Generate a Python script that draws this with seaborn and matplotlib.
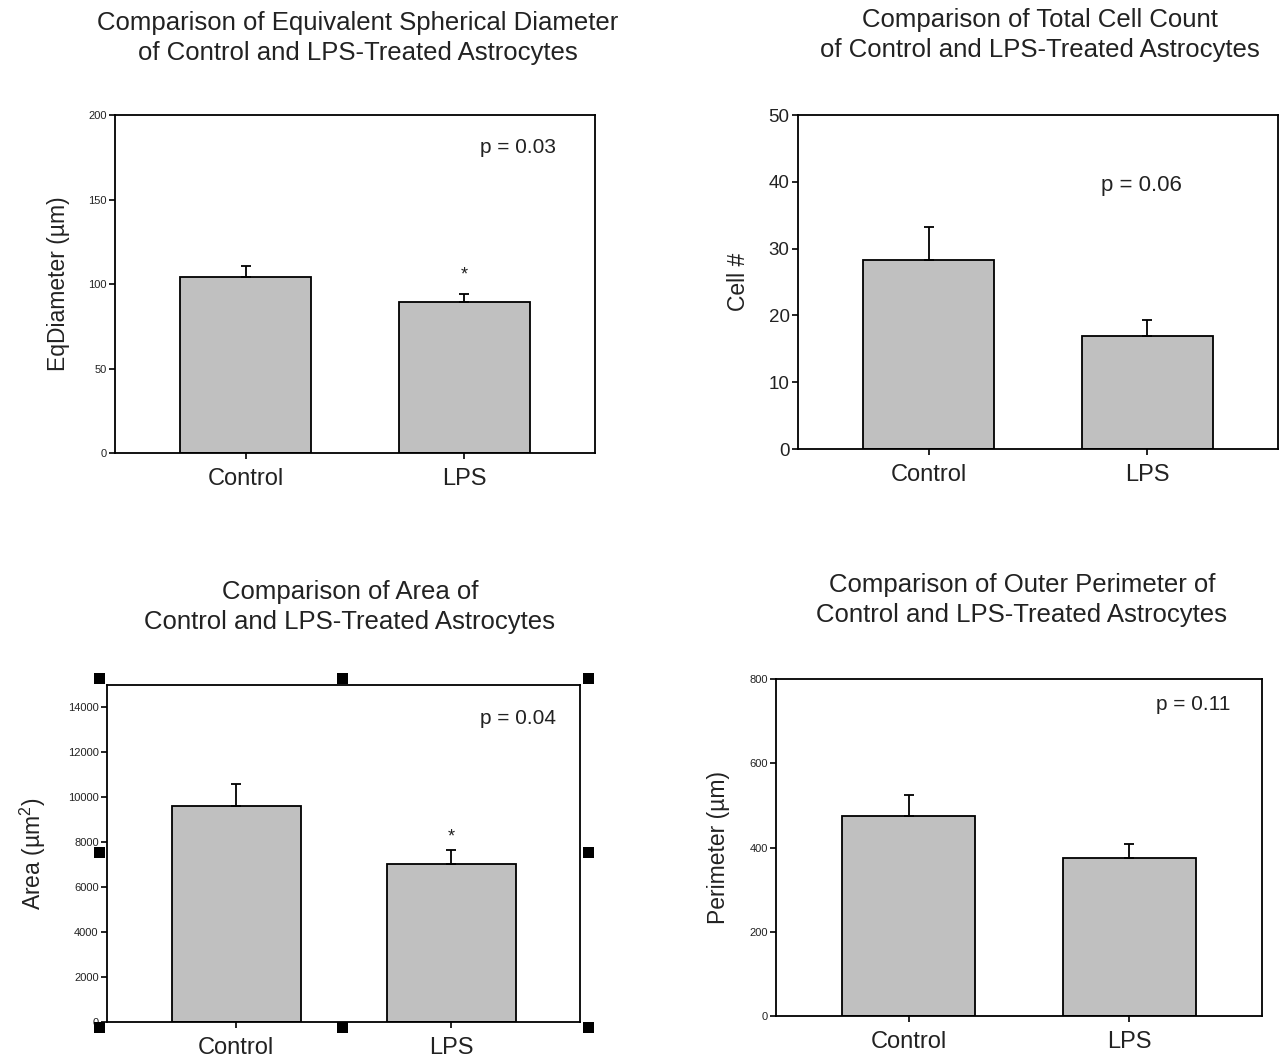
import matplotlib
matplotlib.use("Agg")
import matplotlib.pyplot as plt
import seaborn as sns
import pandas as pd
from matplotlib.patches import Rectangle

# ---- data -------------------------------------------------------------
groups = ["Control", "LPS"]

diameter_mean = [104.4, 89.1]
diameter_sem = [6.3, 5.0]

count_mean = [28.3, 16.9]
count_sem = [5.0, 2.4]

area_mean = [9600, 7020]
area_sem = [990, 630]

perimeter_mean = [475, 375]
perimeter_sem = [49, 34]

p_labels = ["p = 0.03", "p = 0.06", "p = 0.04", "p = 0.11"]
significant = [[False, True], [False, False], [False, True], [False, False]]

titles = [
    "Comparison of Equivalent Spherical Diameter\nof Control and LPS-Treated Astrocytes",
    "Comparison of Total Cell Count\nof Control and LPS-Treated Astrocytes",
    "Comparison of Area of\nControl and LPS-Treated Astrocytes",
    "Comparison of Outer Perimeter of\nControl and LPS-Treated Astrocytes",
]
ylabels = ["EqDiameter (\u00b5m)", "Cell #", "Area (\u00b5m$^2$)", "Perimeter (\u00b5m)"]

# ---- style ------------------------------------------------------------
sns.set_theme(style="ticks")
plt.rcParams["font.family"] = ["Liberation Sans", "DejaVu Sans"]
plt.rcParams["mathtext.fontset"] = "custom"
plt.rcParams["mathtext.rm"] = "Liberation Sans"
plt.rcParams["mathtext.it"] = "Liberation Sans"

W, H = 1288, 1063
fig = plt.figure(figsize=(W / 100, H / 100), dpi=100)
fig.patch.set_facecolor("white")


def rect(x0, y0, x1, y1):
    """Axes rectangle from pixel edges (origin top-left)."""
    return [x0 / W, 1 - y1 / H, (x1 - x0) / W, (y1 - y0) / H]


panels = [
    dict(means=diameter_mean, sems=diameter_sem, ylim=(0, 200), yticks=[0, 50, 100, 150, 200],
         tsize=8, box=rect(115, 115, 595, 453), title_xy=(358, 38),
         lab_x=-0.094, p_xy=(0.84, 0.905), p_size=15, star_off=7.5),
    dict(means=count_mean, sems=count_sem, ylim=(0, 50), yticks=[0, 10, 20, 30, 40, 50],
         tsize=13.5, box=rect(798, 115, 1278, 449), title_xy=(1040, 35),
         lab_x=-0.10, p_xy=(0.715, 0.79), p_size=16, star_off=7.5),
    dict(means=area_mean, sems=area_sem, ylim=(0, 15000),
         yticks=[0, 2000, 4000, 6000, 8000, 10000, 12000, 14000],
         tsize=8, box=rect(107, 685, 580, 1022), title_xy=(350, 607),
         lab_x=-0.125, p_xy=(0.869, 0.9), p_size=15, star_off=3.5),
    dict(means=perimeter_mean, sems=perimeter_sem, ylim=(0, 800), yticks=[0, 200, 400, 600, 800],
         tsize=8, box=rect(776, 679, 1262, 1016), title_xy=(1022, 600),
         lab_x=-0.095, p_xy=(0.858, 0.925), p_size=15, star_off=7.5),
]

for i, cfg in enumerate(panels):
    ax = fig.add_axes(cfg["box"])
    df = pd.DataFrame({"group": groups, "value": cfg["means"]})
    sns.barplot(data=df, x="group", y="value", ax=ax, color="#c0c0c0",
                saturation=1, width=0.6, edgecolor="black", linewidth=1.3,
                errorbar=None)
    # upper error bars only
    ax.errorbar([0, 1], cfg["means"], yerr=[[0, 0], cfg["sems"]], fmt="none",
                ecolor="black", elinewidth=1.3, capsize=3.5, capthick=1.3, zorder=1)

    ax.set_xlim(-0.6, 1.6)
    ax.set_ylim(*cfg["ylim"])
    ax.set_yticks(cfg["yticks"])
    ax.tick_params(axis="y", labelsize=cfg["tsize"], length=4, width=1.2,
                   direction="out", colors="black", labelcolor="#222222", pad=2)
    ax.tick_params(axis="x", labelsize=17, length=4, width=1.2, direction="out",
                   colors="black", labelcolor="#222222", pad=7)
    ax.set_xlabel("")
    ax.set_ylabel(ylabels[i], fontsize=16.5, color="#222222")
    ax.yaxis.set_label_coords(cfg["lab_x"], 0.5)
    for s in ax.spines.values():
        s.set_visible(True)
        s.set_linewidth(1.3)
        s.set_color("black")
    ax.set_facecolor("white")

    ax.text(cfg["p_xy"][0], cfg["p_xy"][1], p_labels[i], transform=ax.transAxes,
            ha="center", va="center", fontsize=cfg["p_size"], color="#222222")

    for k, sig in enumerate(significant[i]):
        if sig:
            top = cfg["means"][k] + cfg["sems"][k]
            ax.annotate("*", xy=(k, top), xytext=(0, cfg["star_off"]),
                        textcoords="offset points", ha="center", va="bottom",
                        fontsize=13, color="#222222")

    fig.text(cfg["title_xy"][0] / W, 1 - cfg["title_xy"][1] / H, titles[i],
             ha="center", va="center", fontsize=18.5, color="#222222", linespacing=1.3)

# selection handles around the area panel
for hx in (99, 343, 588):
    for hy in (678, 852, 1027):
        if hx == 343 and hy == 852:
            continue
        fig.patches.append(Rectangle(((hx - 5.5) / W, 1 - (hy + 5.5) / H), 11 / W, 11 / H,
                                     transform=fig.transFigure, facecolor="black",
                                     edgecolor="none", zorder=10))

fig.savefig("out.png", dpi=100, facecolor="white")
